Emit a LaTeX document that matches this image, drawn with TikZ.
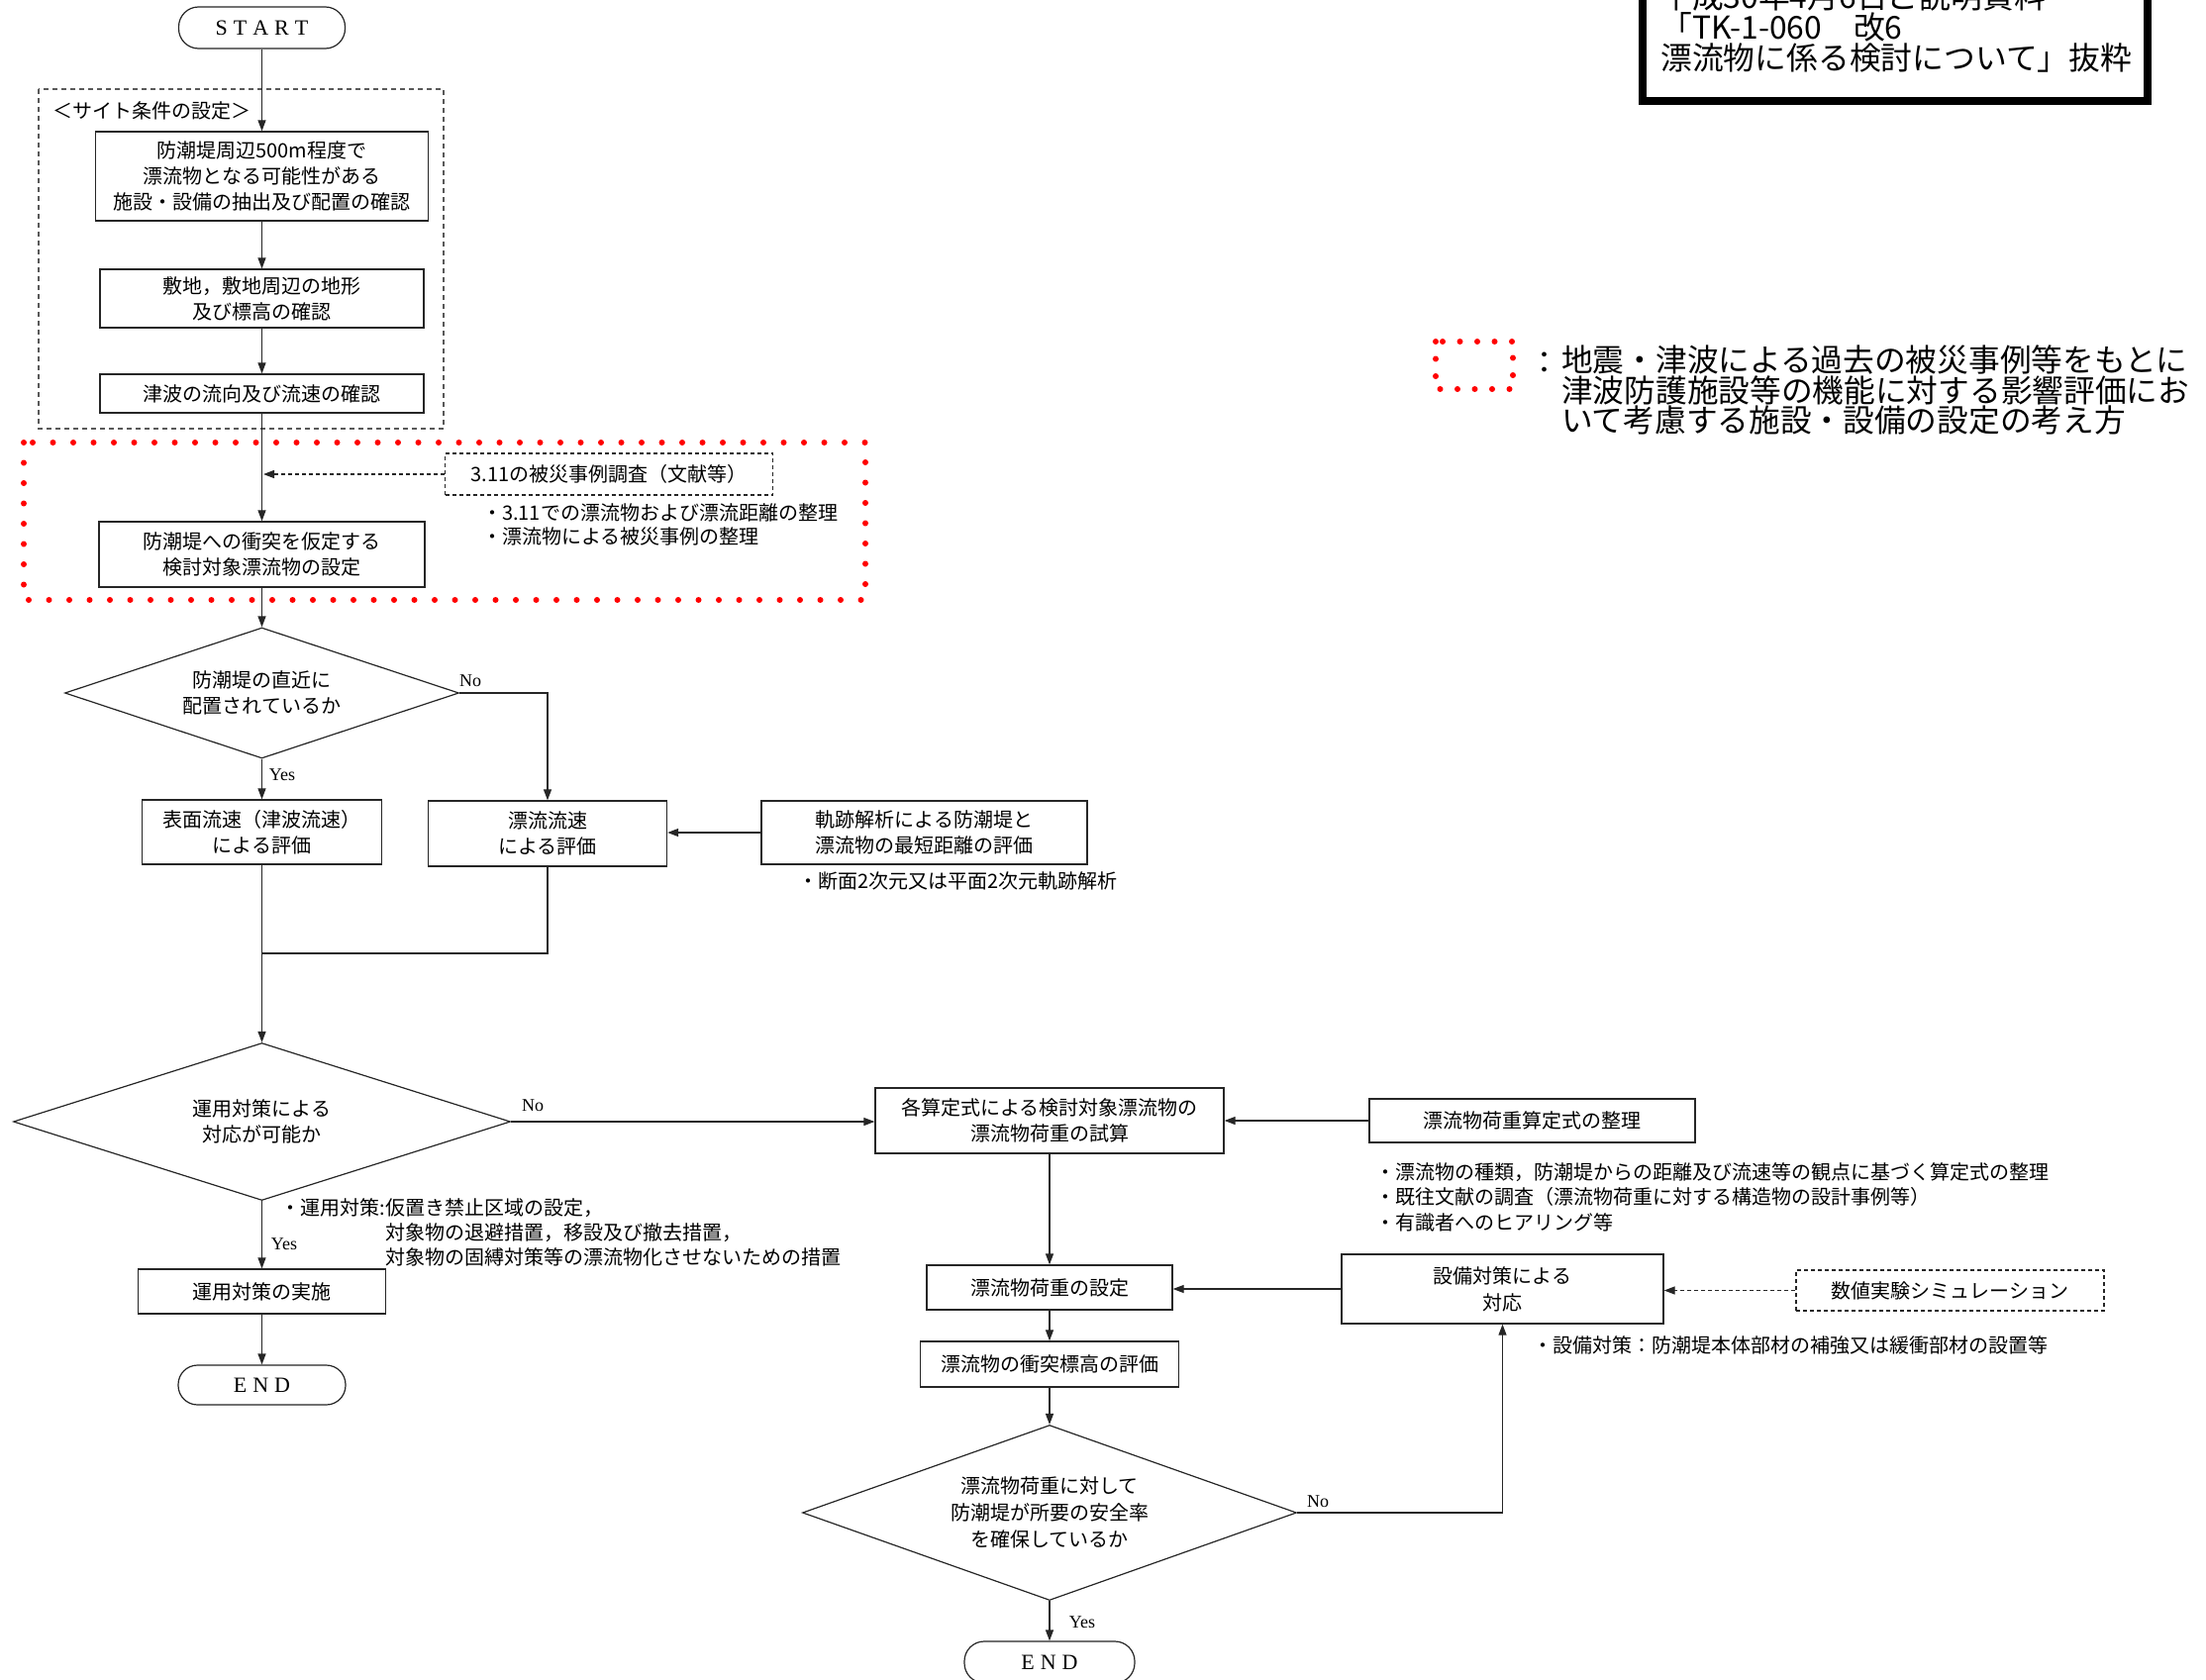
\documentclass[tikz,border=0pt]{standalone}
\usepackage{fontspec}
\setmainfont{Noto Sans CJK JP}
\newfontfamily\serifl{Liberation Serif}
\usetikzlibrary{arrows.meta,shapes.geometric}
\tikzset{
  ln/.style={line width=1.2pt, draw=black!85},
  arr/.style={ln, -{Triangle[length=11pt,width=8pt]}},
  darr/.style={arr, dash pattern=on 4pt off 3pt, line width=1.3pt},
  box/.style={draw=black!85, line width=1.3pt, fill=white, align=center, inner sep=0pt,
    font=\fontsize{20}{26}\selectfont},
  dbox/.style={box, dash pattern=on 4pt off 3pt, line width=1.5pt},
  dia/.style={draw=black!85, line width=1.2pt, diamond, aspect=3, inner sep=0pt, align=center,
    font=\fontsize{20}{26}\selectfont},
  term/.style={draw=black!85, line width=1.2pt, rounded corners=20pt, inner sep=0pt,
    font=\serifl\fontsize{22}{24}\selectfont},
  note/.style={inner sep=0pt, anchor=west, align=left, font=\fontsize{20}{25}\selectfont},
  lbl/.style={inner sep=0pt, font=\serifl\fontsize{18}{20}\selectfont},
  reddots/.style={draw=red, line width=6pt, line cap=round, dash pattern=on 0pt off 20.5pt},
}
\begin{document}
\begin{tikzpicture}[x=1pt,y=-1pt]
\useasboundingbox (0,0) rectangle (2228,1697);
\fill[white] (0,0) rectangle (2228,1697);

% title box (cut at top)
\draw[line width=8pt, black] (1659,-40) rectangle (2169,102);
\node[inner sep=0pt, anchor=west, align=left, font=\fontsize{31.8}{31}\selectfont] (title) at (1677,27)
  {平成30年4月6日ご説明資料\\「TK-1-060　改6\\漂流物に係る検討について」抜粋};

% legend
\draw[draw=red, line width=6pt, line cap=round, dash pattern=on 0pt off 17.5pt] (1450,345) rectangle (1528,393);
\node[inner sep=0pt, font=\fontsize{31}{29}\selectfont] (colon) at (1560,367) {：};
\node[inner sep=0pt, anchor=west, align=left, font=\fontsize{31.7}{29}\selectfont] (legend) at (1577,394)
  {地震・津波による過去の被災事例等をもとに\\津波防護施設等の機能に対する影響評価にお\\いて考慮する施設・設備の設定の考え方};

% site condition dashed frame
\draw[draw=black!65, line width=1.2pt, dash pattern=on 5pt off 4pt] (39,90) rectangle (448,433);
\node[inner sep=0pt, anchor=west, font=\fontsize{20}{24}\selectfont] (sitelbl) at (53,112) {＜サイト条件の設定＞};

% red dotted frame
\draw[reddots] (24,447) rectangle (874,606);

% left column
\node[term, minimum width=168pt, minimum height=42pt] (start) at (264.5,28)
  {S\hspace{6pt}T\hspace{6pt}A\hspace{6pt}R\hspace{6pt}T};
\node[box, minimum width=336pt, minimum height=90pt] (b1) at (264.5,178)
  {防潮堤周辺500m程度で\\漂流物となる可能性がある\\施設・設備の抽出及び配置の確認};
\node[box, minimum width=327pt, minimum height=59pt] (b2) at (264.5,301.5)
  {敷地，敷地周辺の地形\\及び標高の確認};
\node[box, minimum width=327pt, minimum height=39pt] (b3) at (264.5,397.5)
  {津波の流向及び流速の確認};
\node[box, minimum width=329pt, minimum height=66pt] (b4) at (264.5,560)
  {防潮堤への衝突を仮定する\\検討対象漂流物の設定};
\node[dbox, minimum width=331pt, minimum height=42pt] (c311) at (615,479)
  {3.11の被災事例調査（文献等）};
\coordinate (c311tip) at (266,479);
\node[note, font=\fontsize{20}{24}\selectfont] (n311) at (487,530)
  {・3.11での漂流物および漂流距離の整理\\・漂流物による被災事例の整理};

\node[dia, minimum width=398pt, minimum height=132pt] (d1) at (264.5,700)
  {防潮堤の直近に\\配置されているか};
\node[box, minimum width=242pt, minimum height=65pt] (hyomen) at (264.5,840.5)
  {表面流速（津波流速）\\による評価};
\node[box, minimum width=241pt, minimum height=66pt] (hyoryu) at (553,842)
  {漂流流速\\による評価};
\node[box, minimum width=329pt, minimum height=64pt] (kiseki) at (933.5,841)
  {軌跡解析による防潮堤と\\漂流物の最短距離の評価};
\node[note] (nkiseki) at (806,890) {・断面2次元又は平面2次元軌跡解析};
\coordinate (merge) at (264.5,963);

\node[dia, minimum width=502pt, minimum height=159pt] (d2) at (264.5,1133)
  {運用対策による\\対応が可能か};
\node[inner sep=0pt, anchor=east, font=\fontsize{20}{25}\selectfont] (nopsa) at (389,1220) {・運用対策:};
\node[note] (nopsb) at (389,1245)
  {仮置き禁止区域の設定，\\対象物の退避措置，移設及び撤去措置，\\対象物の固縛対策等の漂流物化させないための措置};
\node[box, minimum width=250pt, minimum height=45pt] (unyo) at (264.5,1304.5)
  {運用対策の実施};
\node[term, minimum width=169pt, minimum height=40pt, rounded corners=19.5pt] (end1) at (264.5,1399)
  {E\hspace{6pt}N\hspace{6pt}D};

% right part
\node[box, minimum width=352pt, minimum height=66pt] (kaku) at (1060,1132)
  {各算定式による検討対象漂流物の\\漂流物荷重の試算};
\node[box, minimum width=329pt, minimum height=44pt] (seiri) at (1547.5,1132)
  {漂流物荷重算定式の整理};
\node[note, font=\fontsize{20}{25.5}\selectfont] (nseiri) at (1389,1209)
  {・漂流物の種類，防潮堤からの距離及び流速等の観点に基づく算定式の整理\\・既往文献の調査（漂流物荷重に対する構造物の設計事例等）\\・有識者へのヒアリング等};
\node[box, minimum width=248pt, minimum height=45pt] (settei) at (1060,1300.5)
  {漂流物荷重の設定};
\node[box, minimum width=325pt, minimum height=70pt, font=\fontsize{20}{27}\selectfont] (setsubi) at (1517.5,1302)
  {設備対策による\\対応};
\node[dbox, minimum width=311pt, minimum height=41pt] (suchi) at (1969.5,1303.5)
  {数値実験シミュレーション};
\node[note] (nsetsubi) at (1548,1359) {・設備対策：防潮堤本体部材の補強又は緩衝部材の設置等};
\node[box, minimum width=261pt, minimum height=46pt] (shototsu) at (1060,1378)
  {漂流物の衝突標高の評価};
\node[dia, aspect=2.8, minimum width=499pt, minimum height=177pt, font=\fontsize{20}{27}\selectfont] (d3) at (1060,1528)
  {漂流物荷重に対して\\防潮堤が所要の安全率\\を確保しているか};
\node[term, minimum width=172pt, minimum height=42pt] (end2) at (1060,1679)
  {E\hspace{6pt}N\hspace{6pt}D};

% labels
\node[lbl] (no1) at (475,688) {No};
\node[lbl] (yes1) at (285,783) {Yes};
\node[lbl] (no2) at (538,1117) {No};
\node[lbl] (yes2) at (287,1257) {Yes};
\node[lbl] (no3) at (1331,1517) {No};
\node[lbl] (yes3) at (1093,1639) {Yes};

% connectors
\draw[arr] (start) -- (b1);
\draw[arr] (b1) -- (b2);
\draw[arr] (b2) -- (b3);
\draw[arr] (b3) -- (b4);
\draw[darr] (c311.west) -- (c311tip);
\draw[arr] (b4) -- (d1);
\draw[arr] (d1.east) -| (hyoryu.north);
\draw[arr] (d1.south) -- (hyomen.north);
\draw[arr] (kiseki.west) -- (kiseki.west -| hyoryu.east);
\draw[ln] (hyoryu.south) |- (merge);
\draw[arr] (hyomen.south) -- (d2.north);
\draw[arr] (d2.east) -- (d2.east -| kaku.west);
\draw[arr] (d2.south) -- (unyo.north);
\draw[arr] (unyo) -- (end1);
\draw[arr] (seiri.west) -- (seiri.west -| kaku.east);
\draw[arr] (kaku) -- (settei);
\draw[arr] (setsubi.west) -- (setsubi.west -| settei.east);
\draw[darr] (suchi.west) -- (suchi.west -| setsubi.east);
\draw[arr] (settei) -- (shototsu);
\draw[arr] (shototsu) -- (d3);
\draw[arr] (d3.east) -| (setsubi.south);
\draw[arr] (d3.south) -- (end2);
\end{tikzpicture}
\end{document}
